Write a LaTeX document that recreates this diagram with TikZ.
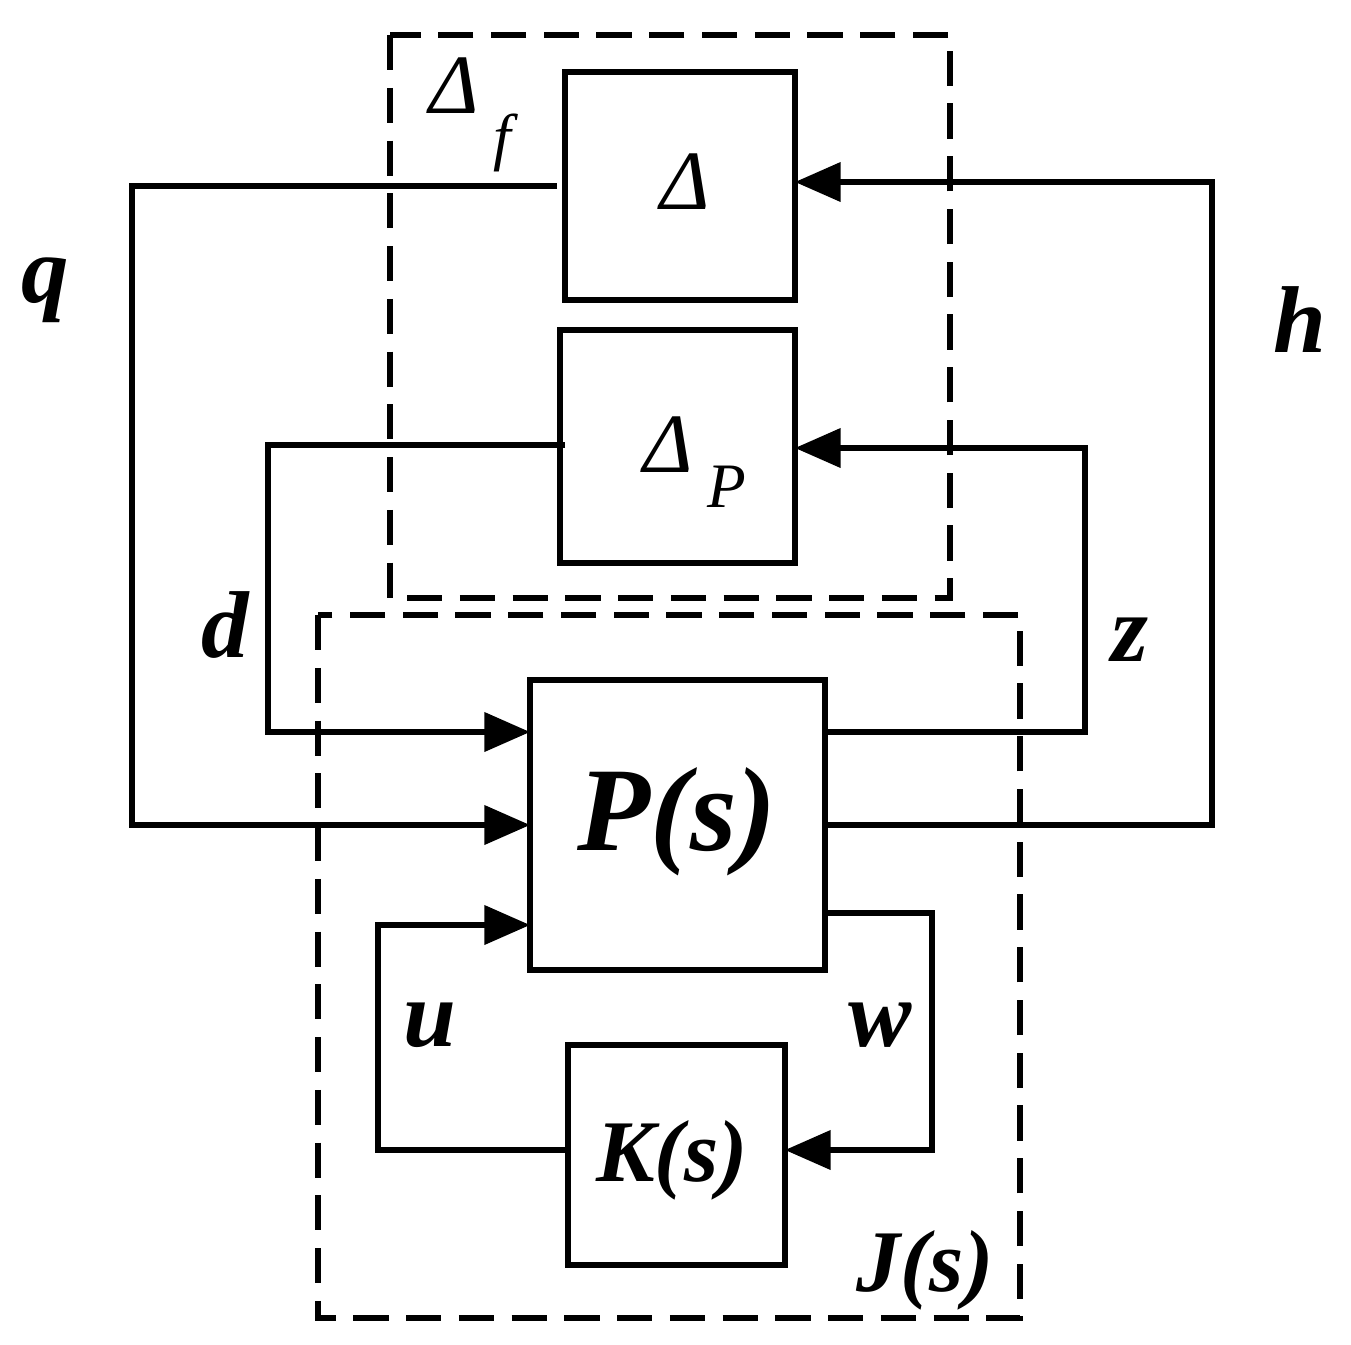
\documentclass[tikz,border=0pt]{standalone}
\usepackage{fontspec}
\setmainfont{Liberation Serif}
\usetikzlibrary{arrows.meta}
\begin{document}
\begin{tikzpicture}[x=0.01cm,y=-0.01cm,
  ln/.style={line width=1.5pt},
  arr/.style={ln,-{Triangle[length=13pt,width=11pt]}},
  dsh/.style={line width=1.5pt,dash pattern=on 10pt off 5pt},
  lbl/.style={font=\fontsize{27}{30}\selectfont\bfseries\itshape}]
\useasboundingbox (0,0) rectangle (1351,1345);
\draw[dsh] (390,35) rectangle (950,598);
\draw[dsh] (318,615) rectangle (1020,1318);
\draw[ln] (565,72) rectangle (795,300);
\draw[ln] (560,330) rectangle (795,563);
\draw[ln] (530,680) rectangle (825,970);
\draw[ln] (568,1045) rectangle (785,1265);
\node (D) at (685,182) {\fontsize{24}{28}\selectfont\itshape Δ};
\node (DP) at (695,462) {\fontsize{24}{28}\selectfont\itshape Δ\hspace{4pt}\raisebox{-10pt}{\fontsize{18}{20}\selectfont\itshape P}};
\node (P) at (677,822) {\fontsize{34}{38}\selectfont\bfseries\itshape P(s)};
\node (K) at (672,1160) {\fontsize{25}{28}\selectfont\bfseries\itshape K(s)};
\node (Df) at (470,115) {\fontsize{24}{28}\selectfont\itshape Δ\hspace{4pt}\raisebox{-13pt}{\fontsize{18}{20}\selectfont\itshape f}};
\node[lbl] (lq) at (45,290) {q};
\node[lbl] (lh) at (1300,320) {h};
\node[lbl] (ld) at (225,625) {d};
\node[lbl] (lz) at (1130,640) {z};
\node[lbl] (lu) at (430,1025) {u};
\node[lbl] (lw) at (880,1025) {w};
\node[font=\fontsize{25}{28}\selectfont\bfseries\itshape] (lJ) at (925,1270) {J(s)};
\coordinate (q1) at (557,186); \coordinate (q2) at (132,186); \coordinate (q3) at (132,825); \coordinate (q4) at (530,825);
\draw[arr] (q1) -- (q2) -- (q3) -- (q4);
\coordinate (h1) at (825,825); \coordinate (h2) at (1212,825); \coordinate (h3) at (1212,182); \coordinate (h4) at (795,182);
\draw[arr] (h1) -- (h2) -- (h3) -- (h4);
\coordinate (d1) at (565,445); \coordinate (d2) at (268,445); \coordinate (d3) at (268,732); \coordinate (d4) at (530,732);
\draw[arr] (d1) -- (d2) -- (d3) -- (d4);
\coordinate (z1) at (825,732); \coordinate (z2) at (1085,732); \coordinate (z3) at (1085,448); \coordinate (z4) at (795,448);
\draw[arr] (z1) -- (z2) -- (z3) -- (z4);
\coordinate (w1) at (825,913); \coordinate (w2) at (932,913); \coordinate (w3) at (932,1150); \coordinate (w4) at (785,1150);
\draw[arr] (w1) -- (w2) -- (w3) -- (w4);
\coordinate (u1) at (568,1150); \coordinate (u2) at (378,1150); \coordinate (u3) at (378,925); \coordinate (u4) at (530,925);
\draw[arr] (u1) -- (u2) -- (u3) -- (u4);
\end{tikzpicture}
\end{document}
